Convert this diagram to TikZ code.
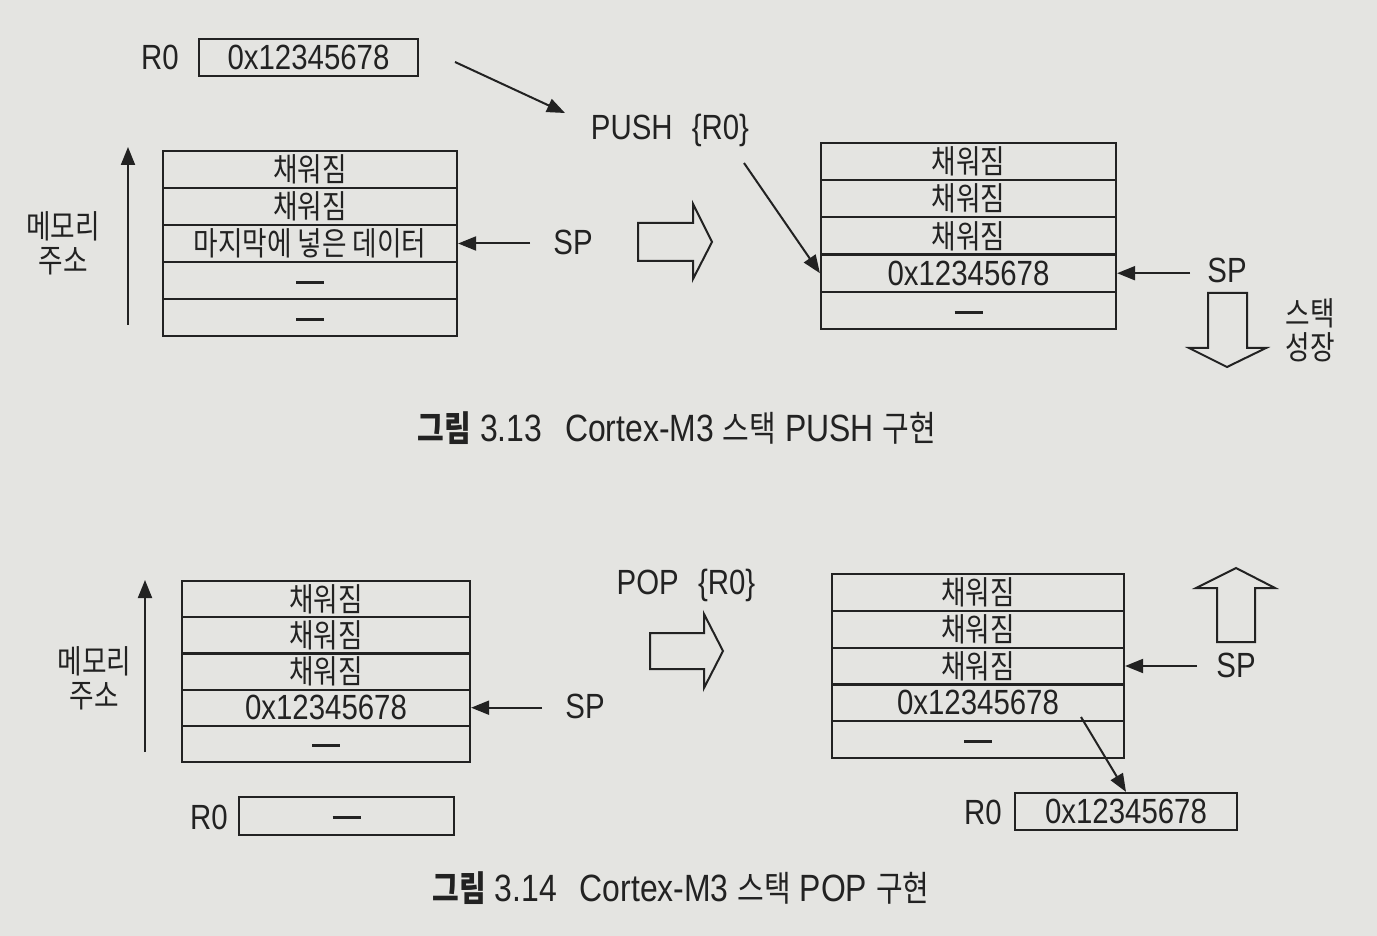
\documentclass[tikz,border=0pt]{standalone}
\usepackage{fontspec}
\setmainfont[FakeStretch=0.84]{Liberation Sans}
\newfontfamily\kr[FakeStretch=0.82,Scale=0.93]{Noto Sans CJK KR}
\usetikzlibrary{arrows.meta}
\definecolor{paper}{RGB}{228,228,225}
\definecolor{ink}{RGB}{34,34,34}
\newcommand\emp{\vphantom{0}\rule[0.25em]{0.8em}{0.09em}}
\begin{document}
\begin{tikzpicture}[x=0.5pt,y=-0.5pt,
  txt/.style={font=\fontsize{17.5}{17}\selectfont, text=ink, inner sep=0pt},
  captxt/.style={font=\fontsize{19}{22}\selectfont, text=ink, inner sep=0pt},
  cell/.style={draw=ink, line width=1.1pt, inner sep=0pt, font=\fontsize{17.5}{20}\selectfont, text=ink},
  arr/.style={draw=ink, line width=1pt, -{Triangle[length=9pt,width=7pt]}},
  hollow/.style={draw=ink, line width=1pt, fill=paper, line join=miter}]
\fill[paper] (0,0) rectangle (1377,936);
\useasboundingbox (0,0) rectangle (1377,936);

% ---------------- Figure 3.13 ----------------
\node[txt] (r0lab1) at (160,57) {R0};
\node[cell, minimum width=109.5pt, minimum height=18.5pt] (r0box1) at (308.5,57.5) {0x12345678};
\coordinate (a1s) at (455,62);
\coordinate (a1e) at (565,113);
\draw[arr] (a1s) -- (a1e);
\node[txt] (push) at (670,130) {PUSH\hspace{0.55em}\{R0\}};

% left stack
\begin{scope}[every node/.style={cell, minimum width=147pt, minimum height=18.5pt}]
\node (L1) at (310,169.5) {\kr 채워짐};
\node (L2) at (310,206.5) {\kr 채워짐};
\node (L3) at (310,243.5) {\kr 마지막에 넣은 데이터};
\node (L4) at (310,280.5) {\emp};
\node (L5) at (310,317.5) {\emp};
\end{scope}
\coordinate (ma1s) at (128,325);
\coordinate (ma1e) at (128,147);
\draw[arr] (ma1s) -- (ma1e);
\node[txt, align=center, font=\kr\fontsize{17.5}{17}\selectfont] (mem1) at (63,243) {메모리\\주소};
\node[txt] (sp1) at (573,242) {SP};
\coordinate (sp1s) at (530,243.5);
\draw[arr] (sp1s) -- (L3.east);

\draw[hollow] (638,223) -- (693,223) -- (693,204) -- (712,242) -- (693,279) -- (693,261) -- (638,261) -- cycle;

% right stack
\begin{scope}[every node/.style={cell, minimum width=147.5pt, minimum height=18.6pt}]
\node (R1) at (968.5,161.6) {\kr 채워짐};
\node (R2) at (968.5,198.8) {\kr 채워짐};
\node (R3) at (968.5,236) {\kr 채워짐};
\node (R4) at (968.5,273.2) {0x12345678};
\node (R5) at (968.5,310.4) {\emp};
\end{scope}
\coordinate (pd) at (744,163);
\draw[arr] (pd) -- (R4.west);
\node[txt] (sp2) at (1227,270) {SP};
\coordinate (sp2s) at (1190,273.2);
\draw[arr] (sp2s) -- (R4.east);
\draw[hollow] (1208,293) -- (1247,293) -- (1247,348) -- (1266,348) -- (1227,367) -- (1189,348) -- (1208,348) -- cycle;
\node[txt, align=center, font=\kr\fontsize{17.5}{17}\selectfont] (grow) at (1310,330) {스택\\성장};

\node[captxt] (cap1) at (677,428) {{\kr\bfseries 그림} 3.13\hspace{0.6em}Cortex-M3 {\kr 스택} PUSH {\kr 구현}};

% ---------------- Figure 3.14 ----------------
\node[txt] (pop) at (686,585) {POP\hspace{0.55em}\{R0\}};
\draw[hollow] (650,633) -- (704,633) -- (704,614) -- (723,651) -- (704,688) -- (704,669) -- (650,669) -- cycle;

\begin{scope}[every node/.style={cell, minimum width=144pt, minimum height=18.1pt}]
\node (B1) at (326,599.1) {\kr 채워짐};
\node (B2) at (326,635.3) {\kr 채워짐};
\node (B3) at (326,671.5) {\kr 채워짐};
\node (B4) at (326,707.7) {0x12345678};
\node (B5) at (326,743.9) {\emp};
\end{scope}
\coordinate (ma2s) at (145,752);
\coordinate (ma2e) at (145,580);
\draw[arr] (ma2s) -- (ma2e);
\node[txt, align=center, font=\kr\fontsize{17.5}{17}\selectfont] (mem2) at (94.5,678) {메모리\\주소};
\node[txt] (sp3) at (585,706) {SP};
\coordinate (sp3s) at (542,707.7);
\draw[arr] (sp3s) -- (B4.east);
\node[txt] (r0lab2) at (209,817) {R0};
\node[cell, minimum width=107.5pt, minimum height=19pt] (r0box2) at (346.5,816) {\emp};

\begin{scope}[every node/.style={cell, minimum width=146pt, minimum height=18.4pt}]
\node (C1) at (978,592.4) {\kr 채워짐};
\node (C2) at (978,629.2) {\kr 채워짐};
\node (C3) at (978,666) {\kr 채워짐};
\node (C4) at (978,702.8) {0x12345678};
\node (C5) at (978,739.6) {\emp};
\end{scope}
\node[txt] (sp4) at (1236,665) {SP};
\coordinate (sp4s) at (1197,666);
\draw[arr] (sp4s) -- (C3.east);
\draw[hollow] (1217,642) -- (1255,642) -- (1255,588) -- (1275,588) -- (1236,568) -- (1196,588) -- (1217,588) -- cycle;
\node[txt] (r0lab3) at (983,812) {R0};
\node[cell, minimum width=111pt, minimum height=18.5pt] (r0box3) at (1126,811.5) {0x12345678};
\coordinate (pp) at (1081,717);
\draw[arr] (pp) -- (r0box3.north);

\node[captxt] (cap2) at (681,888) {{\kr\bfseries 그림} 3.14\hspace{0.6em}Cortex-M3 {\kr 스택} POP {\kr 구현}};
\end{tikzpicture}
\end{document}
